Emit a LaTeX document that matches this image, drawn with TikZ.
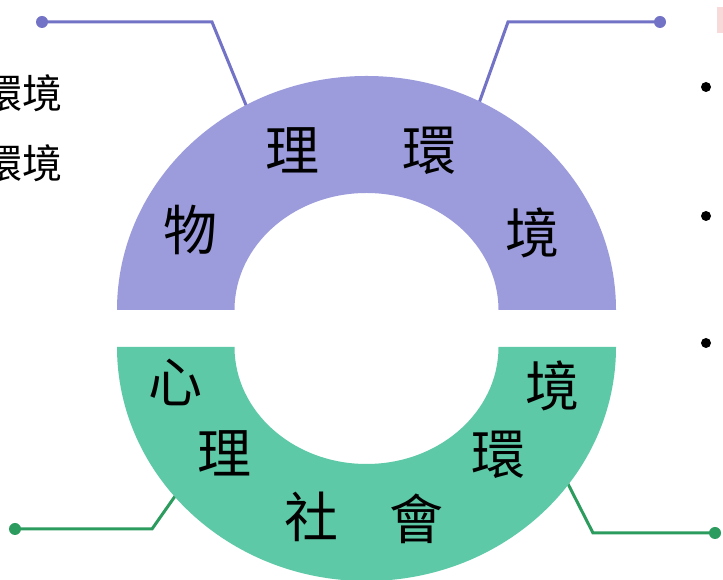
\documentclass[tikz,border=0pt]{standalone}
\usepackage{fontspec}
\newfontfamily\cjk{Noto Sans CJK TC}
\definecolor{pfill}{HTML}{9C9CDC}
\definecolor{pline}{HTML}{7272C6}
\definecolor{gfill}{HTML}{5DC9A7}
\definecolor{gline}{HTML}{2C9C5E}
\definecolor{pinkbox}{HTML}{F8DADA}
\begin{document}
\begin{tikzpicture}[x=1pt,y=1pt,
  ringtext/.style={font=\cjk\fontsize{54}{58}\selectfont, text=black, inner sep=0pt},
  sidetext/.style={font=\cjk\fontsize{40}{44}\selectfont, text=black, inner sep=0pt, anchor=east},
  pconn/.style={draw=pline, line width=3pt, line join=miter},
  gconn/.style={draw=gline, line width=3pt, line join=miter},
  bulletdot/.style={fill=black}]
\useasboundingbox (0,0) rectangle (723,580);
\fill[white] (0,0) rectangle (723,580);
% connector coordinates
\coordinate (tlDot) at (42,558);
\coordinate (tlBend) at (212,558);
\coordinate (tlEnd) at (248,470);
\coordinate (trDot) at (660,558);
\coordinate (trBend) at (508,558);
\coordinate (trEnd) at (478,474);
\coordinate (blDot) at (15,51);
\coordinate (blBend) at (152,51);
\coordinate (blEnd) at (178,88);
\coordinate (brDot) at (715,47);
\coordinate (brBend) at (593,47);
\coordinate (brEnd) at (566,100);
% connectors (behind the ring)
\draw[pconn] (tlDot) -- (tlBend) -- (tlEnd);
\draw[pconn] (trDot) -- (trBend) -- (trEnd);
\draw[gconn] (blDot) -- (blBend) -- (blEnd);
\draw[gconn] (brDot) -- (brBend) -- (brEnd);
\fill[pline] (tlDot) circle (6);
\fill[pline] (trDot) circle (6);
\fill[gline] (blDot) circle (6);
\fill[gline] (brDot) circle (6);
% top half ring
\fill[pfill] (117,270) arc[start angle=180, end angle=0, x radius=249.5, y radius=234]
  -- (498.5,270) arc[start angle=0, end angle=180, x radius=132, y radius=117] -- cycle;
% bottom half ring
\fill[gfill] (117,233) arc[start angle=180, end angle=360, x radius=249.5, y radius=234]
  -- (498.5,233) arc[start angle=360, end angle=180, x radius=132, y radius=117] -- cycle;
% ring text
\node[ringtext] (t1) at (190,350) {物};
\node[ringtext] (t2) at (292,430) {理};
\node[ringtext] (t3) at (429,429) {環};
\node[ringtext] (t4) at (532,347) {境};
\node[ringtext] (b1) at (175,198) {心};
\node[ringtext] (b2) at (224,127) {理};
\node[ringtext] (b3) at (311,63) {社};
\node[ringtext] (b4) at (416,61) {會};
\node[ringtext] (b5) at (498,125) {環};
\node[ringtext] (b6) at (552,194) {境};
% left text (cut off)
\node[sidetext] (l1) at (63,487) {環境};
\node[sidetext] (l2) at (63,417) {環境};
% right bullets
\fill[bulletdot] (706,493) circle (5);
\fill[bulletdot] (706,364) circle (5);
\fill[bulletdot] (706,237) circle (5);
% pink fragment
\fill[pinkbox] (717,547) rectangle (723,573);
\end{tikzpicture}
\end{document}
